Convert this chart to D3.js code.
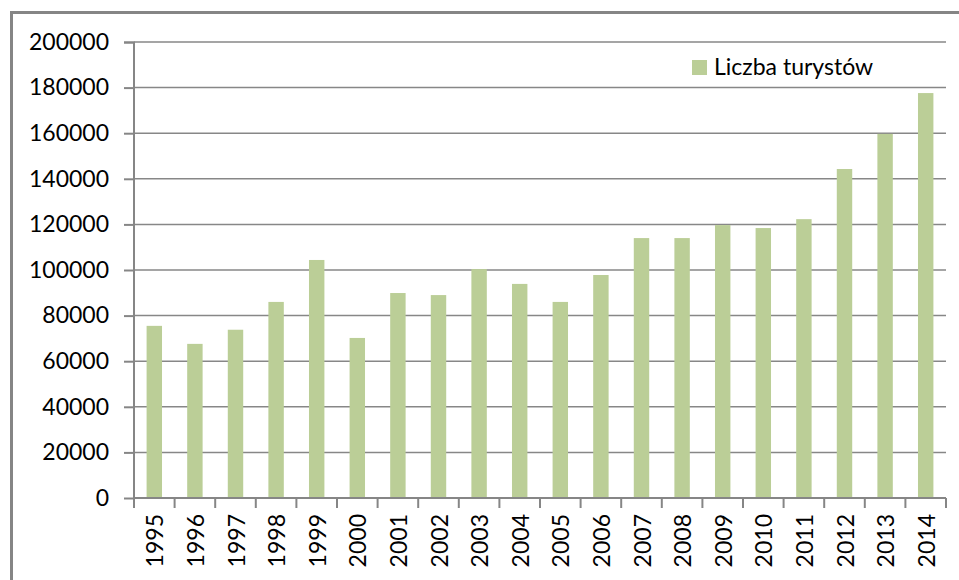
<!DOCTYPE html>
<html>
<head>
<meta charset="utf-8">
<script src="https://cdn.jsdelivr.net/npm/d3@7"></script>
<style>
    body { margin: 0; background: #fff; }
    text { font-family: Lato, "Open Sans", sans-serif; fill: #000; }
</style>
</head>
<body>
<svg id="drawing_region"></svg>
<script>
const years = ["1995","1996","1997","1998","1999","2000","2001","2002","2003","2004",
               "2005","2006","2007","2008","2009","2010","2011","2012","2013","2014"];
const tourists = [75500, 67600, 73800, 86000, 104400, 70200, 89900, 89000, 100400, 93900,
                  86000, 97800, 114000, 114000, 119700, 118400, 122300, 144300, 159700, 177600];
const yTicks = [0, 20000, 40000, 60000, 80000, 100000, 120000, 140000, 160000, 180000, 200000];
const seriesName = "Liczba turystów";

var config = {
    parent: '#drawing_region',
    width: 959,
    height: 580,
    margin: {top:42, right:13, bottom:82, left:134}
};

class BarChart {

    constructor( config, data ) {
        this.config = config;
        this.data = data;
        this.init();
    }

    init() {
        let self = this;

        self.svg = d3.select( self.config.parent )
            .attr('width', self.config.width)
            .attr('height', self.config.height);

        // outer frame (only top and left edges show)
        self.svg.append('path')
            .attr('d', `M11.5,${self.config.height} L11.5,12.5 L${self.config.width},12.5`)
            .attr('fill', 'none')
            .attr('stroke', '#858585')
            .attr('stroke-width', 3);

        self.inner_width = self.config.width - self.config.margin.left - self.config.margin.right;
        self.inner_height = self.config.height - self.config.margin.top - self.config.margin.bottom;

        self.chart = self.svg.append('g')
            .attr('transform', `translate(${self.config.margin.left}, ${self.config.margin.top})`);

        self.xscale = d3.scaleBand()
            .range( [0, self.inner_width] )
            .padding(0);

        self.yscale = d3.scaleLinear()
            .range( [self.inner_height, 0] );
    }

    update() {
        let self = this;
        self.xscale.domain( self.data.map( d => d.year ) );
        self.yscale.domain( [0, 200000] );
        self.render();
    }

    render() {
        let self = this;
        const bw = self.xscale.bandwidth();

        // gridlines
        self.chart.append('g')
            .selectAll('line')
            .data(yTicks.slice(1))
            .join('line')
            .attr('x1', 0)
            .attr('x2', self.inner_width)
            .attr('y1', d => self.yscale(d))
            .attr('y2', d => self.yscale(d))
            .attr('stroke', '#878787')
            .attr('stroke-width', 1.5);

        // bars
        self.chart.append('g')
            .selectAll('rect')
            .data(self.data)
            .join('rect')
            .attr('x', d => self.xscale(d.year) + bw * 0.31)
            .attr('width', bw * 0.38)
            .attr('y', d => self.yscale(d.value))
            .attr('height', d => self.inner_height - self.yscale(d.value))
            .attr('fill', '#BBCE97');

        // y axis
        const yaxis = d3.axisLeft( self.yscale )
            .tickValues(yTicks)
            .tickFormat(d3.format('d'))
            .tickSize(10)
            .tickPadding(15);

        const yg = self.chart.append('g').call(yaxis);
        yg.selectAll('path, line').attr('stroke', '#868686').attr('stroke-width', 2);
        yg.select('.domain').attr('d', `M-10,0.5H0V${self.inner_height}`).attr('stroke-width', 2);
        yg.selectAll('text')
            .style('font-size', '23px')
            .style('font-family', 'Lato, sans-serif')
            .attr('fill', '#000');

        // x axis: line, ticks between categories, rotated labels
        const xg = self.chart.append('g')
            .attr('transform', `translate(0, ${self.inner_height})`);

        xg.append('line')
            .attr('x1', 0).attr('x2', self.inner_width)
            .attr('stroke', '#868686').attr('stroke-width', 2);

        const edges = self.data.map( d => self.xscale(d.year) ).concat([self.inner_width]);
        xg.selectAll('.tick-mark')
            .data(edges)
            .join('line')
            .attr('class', 'tick-mark')
            .attr('x1', d => d).attr('x2', d => d)
            .attr('y1', 0).attr('y2', 10)
            .attr('stroke', '#868686').attr('stroke-width', 2);

        xg.selectAll('.xlabel')
            .data(self.data)
            .join('text')
            .attr('class', 'xlabel')
            .attr('transform', d => `translate(${self.xscale(d.year) + bw / 2}, 16) rotate(-90)`)
            .attr('text-anchor', 'end')
            .attr('dominant-baseline', 'central')
            .style('font-size', '23px')
            .text(d => d.year);

        // legend
        const legend = self.svg.append('g')
            .attr('transform', 'translate(692, 60)');

        legend.append('rect')
            .attr('width', 15).attr('height', 15)
            .attr('fill', '#BBCE97');

        legend.append('text')
            .attr('x', 22).attr('y', 15)
            .style('font-size', '23px')
            .text(seriesName);
    }
}

const data = years.map( (y, i) => ({ year: y, value: tourists[i] }) );
const bar_chart = new BarChart( config, data );
bar_chart.update();
</script>
</body>
</html>
